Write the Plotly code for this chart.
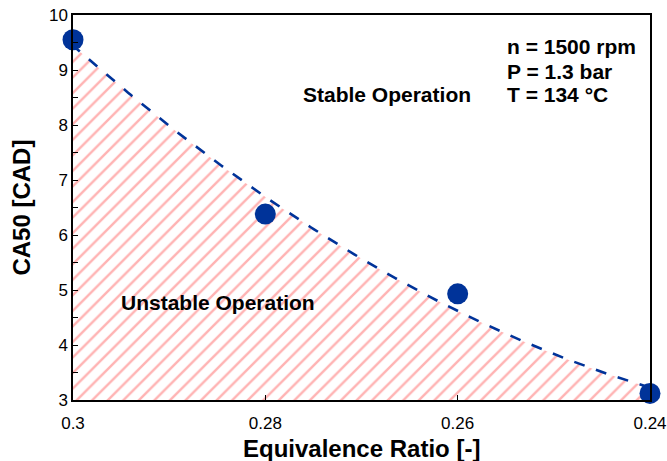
import numpy as np
import plotly.graph_objects as go

# Data
equiv_ratio = [0.30, 0.28, 0.26, 0.24]
ca50 = [9.55, 6.38, 4.93, 3.12]
x_ticks = [0.30, 0.28, 0.26, 0.24]
x_tick_labels = ["0.3", "0.28", "0.26", "0.24"]
info_lines = ["n = 1500 rpm", "P = 1.3 bar", "T = 134 °C"]
info_y = [9.42, 8.98, 8.55]

# Second-order polynomial trendline fitted to the data
coef = np.polyfit(equiv_ratio, ca50, 2)
xf = np.linspace(min(equiv_ratio), max(equiv_ratio), 200)
yf = np.polyval(coef, xf)

BLUE = "#003399"
FONT = "Arial, Liberation Sans, sans-serif"

fig = go.Figure()

# hatched region (unstable operation)
fig.add_trace(go.Scatter(
    x=xf, y=yf, mode="none", fill="tozeroy",
    fillcolor="rgba(255,255,255,0)",
    fillpattern=dict(shape="/", fgcolor="#ffb3b3", bgcolor="rgba(255,255,255,0)",
                     size=11, solidity=0.22, fillmode="replace"),
    hoverinfo="skip", showlegend=False))

# dashed trendline
fig.add_trace(go.Scatter(
    x=xf, y=yf, mode="lines",
    line=dict(color=BLUE, width=2.6, dash="11px,12px"),
    showlegend=False))

# data points
fig.add_trace(go.Scatter(
    x=equiv_ratio, y=ca50, mode="markers",
    marker=dict(color=BLUE, size=21, line=dict(width=0)),
    cliponaxis=False, showlegend=False))

fig.update_xaxes(
    range=[0.30, 0.24], tickvals=x_ticks, ticktext=x_tick_labels,
    ticks="inside", ticklen=5, tickwidth=1, tickcolor="black",
    ticklabelstandoff=7,
    showline=True, linecolor="black", linewidth=1.5, mirror=True,
    showgrid=False, zeroline=False, automargin=False,
    tickfont=dict(family=FONT, size=17, color="black"))

fig.update_yaxes(
    range=[3, 10], dtick=1, tick0=3,
    ticks="inside", ticklen=5, tickwidth=1, tickcolor="black",
    minor=dict(dtick=0.5, ticks="inside", ticklen=5, tickwidth=1, tickcolor="black"),
    showline=True, linecolor="black", linewidth=1.5, mirror=True,
    showgrid=False, zeroline=False, automargin=False,
    tickfont=dict(family=FONT, size=17, color="black"))

# axis titles
fig.add_annotation(xref="paper", yref="paper", x=0.5, y=-0.085,
                   text="<b>Equivalence Ratio [-]</b>", showarrow=False,
                   xanchor="center", yanchor="top",
                   font=dict(family=FONT, size=24, color="black"))
fig.add_annotation(xref="paper", yref="paper", x=-0.09, y=0.5,
                   text="<b>CA50 [CAD]</b>", showarrow=False, textangle=-90,
                   xanchor="center", yanchor="middle",
                   font=dict(family=FONT, size=24, color="black"))

fig.add_annotation(x=0.26735, y=8.55, text="<b>Stable Operation</b>", showarrow=False,
                   xanchor="center", yanchor="middle",
                   font=dict(family=FONT, size=21, color="black"))
fig.add_annotation(x=0.28492, y=4.78, text="<b>Unstable Operation</b>", showarrow=False,
                   xanchor="center", yanchor="middle",
                   font=dict(family=FONT, size=21, color="black"))
for txt, yy in zip(info_lines, info_y):
    fig.add_annotation(x=0.25508, y=yy, text="<b>" + txt + "</b>",
                       showarrow=False, xanchor="left", yanchor="middle", align="left",
                       font=dict(family=FONT, size=21, color="black"))

fig.update_layout(
    width=667, height=461,
    margin=dict(l=73, r=17, t=15, b=61),
    paper_bgcolor="white", plot_bgcolor="white",
    font=dict(family=FONT, color="black"),
    showlegend=False)

fig.write_html("out.html",
               config={"displayModeBar": False},
               post_script="document.body.style.margin='0';document.body.style.padding='0';"
                           "document.body.style.overflow='hidden';")
